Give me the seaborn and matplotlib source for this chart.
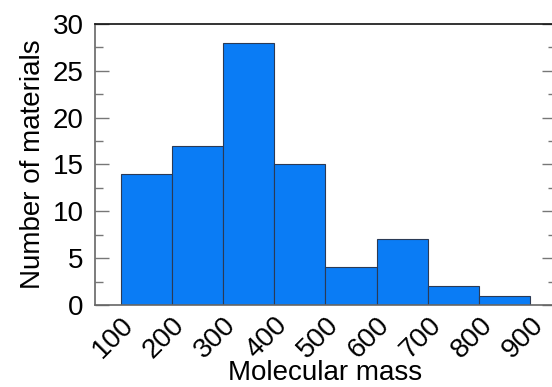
import numpy as np
import pandas as pd
import matplotlib
matplotlib.use("Agg")
import matplotlib.pyplot as plt
import seaborn as sns
from matplotlib.ticker import MultipleLocator
from matplotlib.transforms import ScaledTranslation

# bin edges and counts
bin_edges = [100, 200, 300, 400, 500, 600, 700, 800, 900]
bin_centers = [150, 250, 350, 450, 550, 650, 750, 850]
counts = [14, 17, 28, 15, 4, 7, 2, 1]

df = pd.DataFrame({"mass": bin_centers, "count": counts})

sns.set_style("white")
plt.rcParams["font.family"] = ["Liberation Sans", "DejaVu Sans"]
plt.rcParams["text.color"] = "black"
plt.rcParams["axes.labelcolor"] = "black"

fig = plt.figure(figsize=(5.52, 3.87), dpi=100)
ax = fig.add_axes([0.172, 0.212, 0.835, 0.726])

sns.histplot(data=df, x="mass", weights="count", bins=bin_edges,
             color="#0A7CF5", alpha=1.0, edgecolor="#2b3a55", linewidth=0.8, ax=ax)

ax.set_xlim(50, 950)
ax.set_ylim(0, 30)
ax.set_xticks(bin_edges)
ax.set_xticklabels([str(v) for v in bin_edges], rotation=45, ha="right",
                   rotation_mode="anchor", fontsize=20)
shift = ScaledTranslation(7 / 72, 0, fig.dpi_scale_trans)
for lbl in ax.get_xticklabels():
    lbl.set_transform(lbl.get_transform() + shift)
ax.yaxis.set_major_locator(MultipleLocator(5))
ax.yaxis.set_minor_locator(MultipleLocator(2.5))
ax.tick_params(axis="both", which="both", labelcolor="black")
ax.tick_params(axis="y", which="both", direction="in", left=True, right=True,
               color="#777777", labelsize=20, pad=8)
ax.tick_params(axis="y", which="major", length=10, width=1)
ax.tick_params(axis="y", which="minor", length=6, width=1)
ax.tick_params(axis="x", which="both", length=0, pad=5)

for side in ["left", "bottom"]:
    ax.spines[side].set_color("#666666")
ax.spines["top"].set_color("#111111")
ax.spines["right"].set_color("#666666")
for s in ax.spines.values():
    s.set_linewidth(1.2)

ax.set_xlabel("Molecular mass", fontsize=20, labelpad=-2)
ax.set_ylabel("Number of materials", fontsize=20, labelpad=5)

fig.savefig("out.png", dpi=100)
